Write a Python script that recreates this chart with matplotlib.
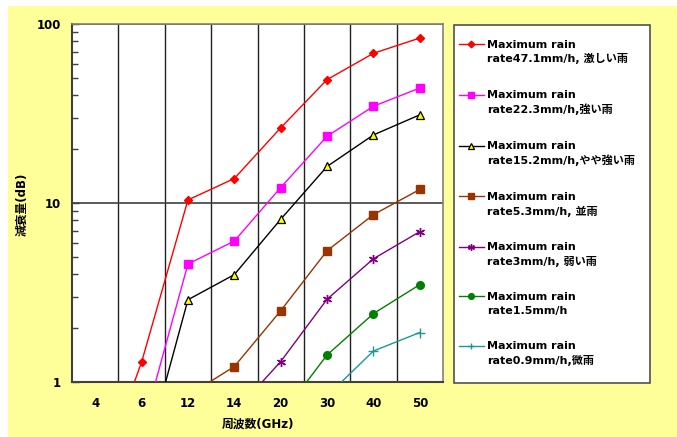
import numpy as np
import matplotlib
matplotlib.use("Agg")
import matplotlib.pyplot as plt
from matplotlib.patches import Rectangle
from matplotlib.legend_handler import HandlerLine2D
from matplotlib.ticker import FixedLocator, LogLocator, NullFormatter

plt.rcParams['font.family'] = ['DejaVu Sans', 'Noto Sans CJK JP']
plt.rcParams['font.weight'] = 'bold'

freqs = ['4', '6', '12', '14', '20', '30', '40', '50']

rain_47_1 = [0.25, 1.29, 10.4, 13.7, 26.3, 48.9, 68.6, 83.5]
rain_22_3 = [0.10, 0.52, 4.56, 6.13, 12.2, 23.6, 34.7, 43.9]
rain_15_2 = [0.05, 0.32, 2.88, 3.98, 8.11, 16.0, 24.0, 31.1]
rain_5_3 = [0.03, 0.10, 0.84, 1.22, 2.50, 5.41, 8.61, 11.9]
rain_3 = [0.02, 0.05, 0.20, 0.675, 1.30, 2.90, 4.88, 6.92]
rain_1_5 = [0.01, 0.03, 0.10, 0.30, 0.644, 1.416, 2.41, 3.50]
rain_0_9 = [0.01, 0.02, 0.05, 0.20, 0.45, 0.836, 1.49, 1.89]

labels = [
    'Maximum rain\nrate47.1mm/h, 激しい雨',
    'Maximum rain\nrate22.3mm/h,強い雨',
    'Maximum rain\nrate15.2mm/h,やや強い雨',
    'Maximum rain\nrate5.3mm/h, 並雨',
    'Maximum rain\nrate3mm/h, 弱い雨',
    'Maximum rain\nrate1.5mm/h',
    'Maximum rain\nrate0.9mm/h,微雨',
]
series = [rain_47_1, rain_22_3, rain_15_2, rain_5_3, rain_3, rain_1_5, rain_0_9]
styles = [
    dict(color='#FF0000', marker='D', ms=4.5, mfc='#FF0000', mec='#FF0000'),
    dict(color='#FF00FF', marker='s', ms=5.5, mfc='#FF00FF', mec='#FF00FF'),
    dict(color='#000000', marker='^', ms=6, mfc='#FFFF00', mec='#000000', mew=0.9),
    dict(color='#993300', marker='s', ms=5.5, mfc='#993300', mec='#993300'),
    dict(color='#800080', marker=(6, 2, 0), ms=6.5, mfc='#800080', mec='#800080', mew=1.0),
    dict(color='#008000', marker='o', ms=5.5, mfc='#008000', mec='#008000'),
    dict(color='#1E9696', marker='+', ms=6.5, mfc='#1E9696', mec='#1E9696', mew=1.0),
]

W, H = 677, 437
fig = plt.figure(figsize=(W / 100, H / 100), dpi=100)
fig.patch.set_facecolor('white')
fig.add_artist(Rectangle((8 / W, 0), 1 - 8 / W, (H - 6) / H, transform=fig.transFigure,
                         facecolor='#FFFF99', edgecolor='none', zorder=-10))

ax = fig.add_axes([72 / W, (H - 382) / H, 371 / W, 358 / H])
ax.set_facecolor('white')
x = np.arange(len(freqs))
lines = []
for vals, lab, st in zip(series, labels, styles):
    ln, = ax.plot(x, vals, lw=1.0, label=lab, zorder=3, **st)
    lines.append(ln)

ax.set_yscale('log')
ax.set_ylim(1, 100)
ax.set_xlim(-0.5, len(freqs) - 0.5)

ax.set_xticks(x)
ax.set_xticklabels(freqs, fontsize=8.5, fontweight='bold')
ax.set_xticks(np.arange(0.5, len(freqs) - 1, 1), minor=True)
ax.tick_params(axis='x', which='both', length=0, pad=10.5)
ax.grid(which='minor', axis='x', color='#202020', lw=1.0, zorder=1)

ax.yaxis.set_major_locator(FixedLocator([1, 10, 100]))
ax.set_yticklabels(['1', '10', '100'], fontsize=8.5, fontweight='bold')
ax.yaxis.set_minor_locator(LogLocator(base=10, subs=np.arange(2, 10)))
ax.yaxis.set_minor_formatter(NullFormatter())
ax.tick_params(axis='y', which='major', direction='in', length=5, width=1, pad=8, color='#404040')
ax.tick_params(axis='y', which='minor', direction='in', length=4, width=1, color='#404040')
ax.grid(which='major', axis='y', color='#404040', lw=1.2, zorder=1)

for side in ['left', 'bottom']:
    ax.spines[side].set_color('#404040')
    ax.spines[side].set_linewidth(1.5)
for side in ['top', 'right']:
    ax.spines[side].set_color('#808080')
    ax.spines[side].set_linewidth(1.2)

ax.set_xlabel('周波数(GHz)', fontsize=8.5, fontweight='bold')
ax.xaxis.set_label_coords(0.5, (382 - 424) / 358)
ax.xaxis.label.set_va('center')
ax.set_ylabel('減衰量(dB)', fontsize=8.5, fontweight='bold')
ax.yaxis.set_label_coords((22 - 72) / 371, (382 - 204) / 358)
ax.yaxis.label.set_va('center')

# legend frame
fig.add_artist(Rectangle((454 / W, (H - 383) / H), 196 / W, 358 / H, transform=fig.transFigure,
                         facecolor='white', edgecolor='#505050', lw=1.2, zorder=1))

SHIFT = 5.8


class UpHandler(HandlerLine2D):
    def create_artists(self, legend, orig_handle, xdescent, ydescent, width, height, fontsize, trans):
        arts = super().create_artists(legend, orig_handle, xdescent, ydescent, width, height, fontsize, trans)
        for a in arts:
            a.set_ydata(np.asarray(a.get_ydata(), dtype=float) + SHIFT)
        return arts


leg = fig.legend(handles=lines, labels=labels, loc='upper left',
                 bbox_to_anchor=(453 / W, (H - 34) / H), frameon=False, borderpad=0,
                 numpoints=1, handlelength=2.3, handletextpad=0.25, labelspacing=2.3,
                 markerscale=0.75,
                 prop=dict(size=8, weight='bold'),
                 handler_map={l: UpHandler() for l in lines})
leg.set_zorder(2)
for t in leg.get_texts():
    t.set_linespacing(1.4)

fig.savefig('out.png', dpi=100, facecolor='white')
